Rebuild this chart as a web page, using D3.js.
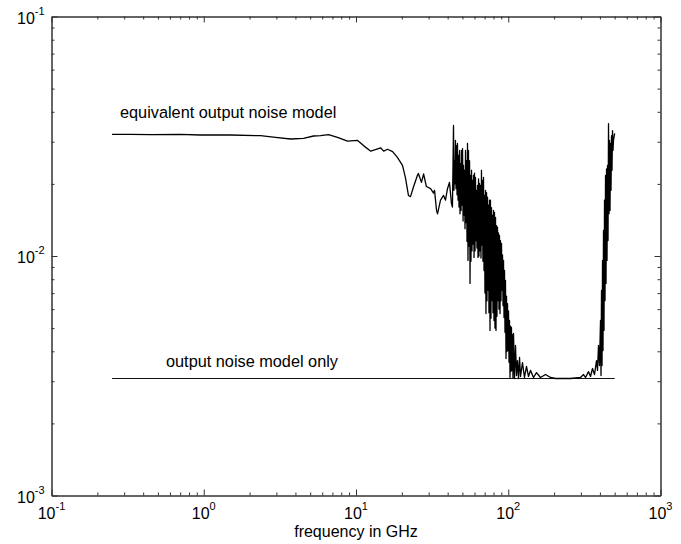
<!DOCTYPE html>
<html>
<head>
<meta charset="utf-8">
<script src="https://cdn.jsdelivr.net/npm/d3@7/dist/d3.min.js"></script>
<style>
  html, body { margin: 0; padding: 0; background: #fff; }
  svg { display: block; }
  text { font-family: "Liberation Sans", Arial, Helvetica, sans-serif; fill: #000; }
</style>
</head>
<body>
<svg id="chart" width="681" height="544"></svg>
<script>
// Axis decades (log scales) and their tick exponents
const xDomain = [0.1, 1000];
const yDomain = [0.001, 0.1];
const xTickExponents = [-1, 0, 1, 2, 3];
const yTickExponents = [-3, -2, -1];

// Series labels
const seriesLabels = ["equivalent output noise model", "output noise model only"];
const xAxisTitle = "frequency in GHz";

// Equivalent output noise model: [frequency GHz, noise]
const equivalentNoise = [
  [0.25, 0.0322], [0.33, 0.0322], [0.45, 0.0321], [0.70, 0.0322], [0.95, 0.0320],
  [1.50, 0.0320], [2.36, 0.0318], [2.96, 0.0313], [3.71, 0.0308], [4.52, 0.0310],
  [5.26, 0.0317], [5.85, 0.0318], [6.60, 0.0321], [7.56, 0.0313], [8.80, 0.0302],
  [10.2, 0.0304], [11.2, 0.0289], [12.5, 0.0274], [13.4, 0.0278], [14.5, 0.0283],
  [15.2, 0.0274], [16.1, 0.0279], [17.4, 0.0273], [18.7, 0.0258], [20.2, 0.0239],
  [21.1, 0.0213], [22.1, 0.0179], [22.8, 0.0177], [23.9, 0.0195], [25.3, 0.0217],
  [25.7, 0.0221], [26.9, 0.0203], [27.8, 0.0220], [29.0, 0.0195], [30.9, 0.0191],
  [32.3, 0.0183], [32.8, 0.0188], [33.8, 0.0155], [34.3, 0.0150], [35.9, 0.0171],
  [37.6, 0.0179], [38.7, 0.0171], [39.9, 0.0191], [41.1, 0.0203], [42.4, 0.0165],
  [43.0, 0.0160],
  // dense ripple band, 40-110 GHz
  [43.7, 0.0351], [44.0, 0.0188], [44.4, 0.0250], [44.7, 0.0200], [45.0, 0.0304], [45.4, 0.0191],
  [45.7, 0.0289], [46.1, 0.0180], [46.4, 0.0295], [46.8, 0.0171], [47.1, 0.0263], [47.5, 0.0160],
  [47.9, 0.0276], [48.2, 0.0150], [48.6, 0.0243], [49.0, 0.0155], [49.3, 0.0276], [49.7, 0.0163],
  [50.1, 0.0281], [50.5, 0.0140], [50.8, 0.0239], [51.2, 0.0148], [51.6, 0.0228], [52.0, 0.0130],
  [52.4, 0.0276], [52.8, 0.0138], [53.2, 0.0250], [53.6, 0.0115], [54.0, 0.0295], [54.4, 0.00958],
  [54.8, 0.0276], [55.2, 0.0110], [55.7, 0.0250], [56.1, 0.00768], [56.5, 0.0217], [56.9, 0.0095],
  [57.4, 0.0228], [57.8, 0.0105], [58.2, 0.0207], [58.7, 0.0112], [59.1, 0.0217], [59.6, 0.00986],
  [60.0, 0.0222], [60.5, 0.0105], [60.9, 0.0213], [61.4, 0.0116], [61.9, 0.0188], [62.3, 0.0108],
  [62.8, 0.0197], [63.3, 0.00986], [63.8, 0.0210], [64.2, 0.0100], [64.7, 0.0201], [65.2, 0.0105],
  [65.7, 0.0197], [66.2, 0.0098], [66.7, 0.0228], [67.2, 0.0111], [67.7, 0.0207], [68.2, 0.0095],
  [68.8, 0.0213], [69.3, 0.00870], [69.8, 0.0179], [70.3, 0.0070], [70.9, 0.0188], [71.4, 0.00575],
  [72.0, 0.0184], [72.5, 0.0065], [73.1, 0.0176], [73.6, 0.00718], [74.2, 0.0163], [74.7, 0.0058],
  [75.3, 0.0171], [75.9, 0.00489], [76.4, 0.0171], [77.0, 0.0055], [77.6, 0.0159], [78.2, 0.00652],
  [78.8, 0.0148], [79.4, 0.0058], [80.0, 0.0155], [80.6, 0.00538], [81.2, 0.0152], [81.8, 0.0050],
  [82.5, 0.0145], [83.1, 0.00489], [83.7, 0.0134], [84.3, 0.0056], [85.0, 0.0132], [85.6, 0.00652],
  [86.3, 0.0125], [86.9, 0.0060], [87.6, 0.0122], [88.3, 0.00575], [88.9, 0.0116], [89.6, 0.0065],
  [90.3, 0.0113], [91.0, 0.00718], [91.7, 0.0101], [92.4, 0.0062], [93.1, 0.00958], [93.8, 0.00553],
  [94.5, 0.0087], [95.2, 0.0048], [95.9, 0.00790], [96.7, 0.00373], [97.4, 0.0068], [98.1, 0.0040],
  [98.9, 0.00633], [99.6, 0.00403], [100.4, 0.0059], [101.2, 0.0036], [101.9, 0.00538], [102.7, 0.00311],
  [103.5, 0.0051], [104.3, 0.0033], [105.0, 0.00503], [105.8, 0.00333], [106.6, 0.0047], [107.4, 0.0031],
  [108.3, 0.00475], [109.9, 0.00308], [111.6, 0.00423], [113.3, 0.00317], [115.0, 0.00366],
  [116.8, 0.00308], [118.6, 0.00377], [120.4, 0.00314],
  // floor region
  [124.0, 0.00359], [127.8, 0.00311], [131.8, 0.00346], [135.8, 0.00314], [140.0, 0.00333],
  [146.5, 0.00311], [153.3, 0.00326], [162.8, 0.00311], [175.7, 0.00320], [189.5, 0.00311],
  [204.3, 0.00308], [256.4, 0.00308], [298.2, 0.00311], [312.3, 0.00320], [321.7, 0.00311],
  [336.6, 0.00329], [347.0, 0.00314], [357.6, 0.00339], [368.6, 0.00320], [379.9, 0.00366],
  [385.7, 0.00333], [391.5, 0.00423], [397.5, 0.00349],
  // steep rise to 500 GHz
  [403.6, 0.00538], [406.7, 0.00317], [409.8, 0.00718], [413.0, 0.00349], [416.1, 0.00958],
  [419.2, 0.00403], [422.3, 0.0128], [425.5, 0.00489], [428.8, 0.0171], [432.1, 0.00652],
  [435.4, 0.0217], [438.7, 0.00768], [442.0, 0.0231], [445.4, 0.00958], [448.8, 0.0239],
  [452.2, 0.0116], [455.6, 0.0357], [459.0, 0.0150], [462.5, 0.0304], [466.0, 0.0155],
  [469.5, 0.0295], [473.1, 0.0188], [476.7, 0.0318], [480.3, 0.0228], [484.0, 0.0334],
  [487.6, 0.0276], [491.2, 0.0304], [500.0, 0.0325]
];

// Output noise model only: flat level across the band
const outputNoise = [[0.25, 0.00308], [500, 0.00308]];

const svg = d3.select("#chart");
const plot = { left: 51.5, top: 16.5, right: 660.5, bottom: 495.5 };

const x = d3.scaleLog().domain(xDomain).range([plot.left, plot.right]);
const y = d3.scaleLog().domain(yDomain).range([plot.bottom, plot.top]);

// Minor tick values: 2..9 within each decade
function minorTicks(domain) {
  const out = [];
  const lo = Math.round(Math.log10(domain[0]));
  const hi = Math.round(Math.log10(domain[1]));
  for (let e = lo; e < hi; e++) {
    for (let m = 2; m <= 9; m++) out.push(m * Math.pow(10, e));
  }
  return out;
}
const xMajor = xTickExponents.map(e => Math.pow(10, e));
const yMajor = yTickExponents.map(e => Math.pow(10, e));
const xMinor = minorTicks(xDomain);
const yMinor = minorTicks(yDomain);

const axisColor = "#333";
function styleAxis(g) {
  g.selectAll("path.domain").attr("stroke", axisColor).attr("stroke-width", 1);
  g.selectAll(".tick line").attr("stroke", axisColor).attr("stroke-width", 1);
  g.selectAll(".tick text").remove();
}

// Box axes: major ticks inward (6px), minor inward (3px), on all four sides
const axes = [
  { make: d3.axisBottom, scale: x, tr: `translate(0,${plot.bottom})`, major: xMajor, minor: xMinor },
  { make: d3.axisTop, scale: x, tr: `translate(0,${plot.top})`, major: xMajor, minor: xMinor },
  { make: d3.axisLeft, scale: y, tr: `translate(${plot.left},0)`, major: yMajor, minor: yMinor },
  { make: d3.axisRight, scale: y, tr: `translate(${plot.right},0)`, major: yMajor, minor: yMinor }
];
axes.forEach(a => {
  svg.append("g").attr("transform", a.tr)
    .call(a.make(a.scale).tickValues(a.minor).tickSizeInner(-3).tickSizeOuter(0).tickFormat(""))
    .call(styleAxis);
  svg.append("g").attr("transform", a.tr)
    .call(a.make(a.scale).tickValues(a.major).tickSizeInner(-6).tickSizeOuter(0).tickFormat(""))
    .call(styleAxis);
});

// Power-of-ten tick labels
function powerLabel(sel, exp) {
  sel.append("tspan").attr("font-size", 16).text("10");
  sel.append("tspan").attr("font-size", 11).attr("dy", -9).text(String(exp));
}
xTickExponents.forEach(e => {
  svg.append("text")
    .attr("x", x(Math.pow(10, e)))
    .attr("y", 519)
    .attr("text-anchor", "middle")
    .call(powerLabel, e);
});
yTickExponents.forEach(e => {
  svg.append("text")
    .attr("x", 17)
    .attr("y", y(Math.pow(10, e)) + 7)
    .call(powerLabel, e);
});

// Curves
const line = d3.line().x(d => x(d[0])).y(d => y(d[1]));
svg.append("path")
  .datum(outputNoise)
  .attr("d", line)
  .attr("fill", "none")
  .attr("stroke", "#111")
  .attr("stroke-width", 1);
svg.append("path")
  .datum(equivalentNoise)
  .attr("d", line)
  .attr("fill", "none")
  .attr("stroke", "#000")
  .attr("stroke-width", 1.3)
  .attr("stroke-linejoin", "round");

// Annotations
svg.append("text").attr("x", 120).attr("y", 118).attr("font-size", 16.3).text(seriesLabels[0]);
svg.append("text").attr("x", 166).attr("y", 367).attr("font-size", 16.3).text(seriesLabels[1]);

// X axis title
svg.append("text")
  .attr("x", (plot.left + plot.right) / 2)
  .attr("y", 537)
  .attr("text-anchor", "middle")
  .attr("font-size", 16)
  .text(xAxisTitle);
</script>
</body>
</html>
